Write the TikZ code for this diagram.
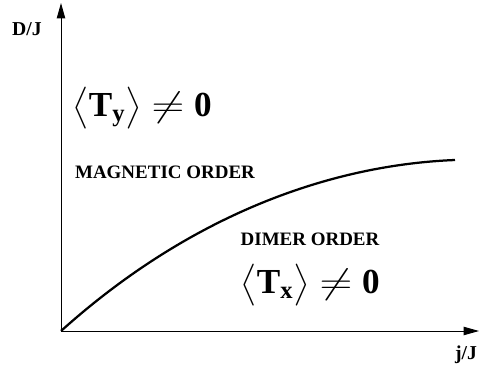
\documentclass[tikz,border=0pt]{standalone}
\usepackage{fontspec}
\setmainfont{Liberation Serif}
\usepackage{amsmath}
\usetikzlibrary{arrows.meta}

\begin{document}
\begin{tikzpicture}[
    x=0.025cm, y=-0.025cm,
    every node/.style={font=\bfseries},
    >={Triangle[length=11pt, width=6pt]},
    axislabel/.style={font=\fontsize{14}{16}\selectfont\bfseries},
    phase/.style={font=\fontsize{13.5}{16}\selectfont\bfseries, inner sep=1pt},
    order/.style={font=\fontsize{25}{30}\selectfont, inner sep=0pt},
]
\useasboundingbox (0,0) rectangle (479,373);

% === Axes ===
\coordinate (O) at (61,331);
\coordinate (ytip) at (61,3);
\coordinate (xtip) at (479,331);
\draw[->, line width=0.7pt] (O) -- (ytip);
\draw[->, line width=0.7pt] (O) -- (xtip);

% Axis labels
\node[axislabel] (ylab) at (27,29) {D/J};
\node[axislabel] (xlab) at (466,355) {j/J};

% === Phase boundary ===
\coordinate (bend) at (455,160);
\draw[line width=1.6pt] (O) .. controls (190,215) and (330,165) .. (bend);

% === Phases ===
\node[phase] (mag) at (165,172) {MAGNETIC ORDER};
\node[phase] (dim) at (310,239) {DIMER ORDER};
\node[order] (ty) at (142,108)
    {$\bigl\langle \mathbf{T}_{\mathbf{y}} \bigr\rangle \mathrel{\scalebox{1.3}[1]{$\neq$}} \mathbf{0}$};
\node[order] (tx) at (310,285)
    {$\bigl\langle \mathbf{T}_{\mathbf{x}} \bigr\rangle \mathrel{\scalebox{1.3}[1]{$\neq$}} \mathbf{0}$};

\end{tikzpicture}
\end{document}
